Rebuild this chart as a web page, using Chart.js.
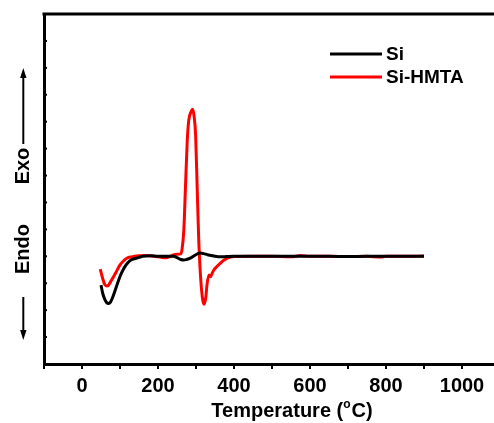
<!DOCTYPE html>
<html>
<head>
<meta charset="utf-8">
<script src="https://cdn.jsdelivr.net/npm/chart.js@4/dist/chart.umd.min.js"></script>
<style>
html,body{margin:0;padding:0;background:#fff;overflow:hidden;width:494px;height:423px;}
canvas{display:block;}
</style>
</head>
<body>
<canvas id="c" width="500" height="423"></canvas>
<script>
// ---- Data ----
const siTemp = [50,55,60,65,70,75,80,90,100,110,120,130,140,150,160,180,200,220,240,250,260,268,275,285,295,305,312,320,330,340,350,365,380,400,450,500,550,600,650,700,750,800,850,900];
const siValue = [2.93,2.6,2.4,2.28,2.25,2.3,2.45,2.85,3.25,3.55,3.75,3.87,3.92,3.96,4.0,4.02,4.0,4.0,4.0,3.95,3.88,3.86,3.88,3.93,4.02,4.1,4.12,4.1,4.06,4.03,4.0,3.98,3.99,4.0,4.0,4.0,4.0,4.0,4.0,3.99,4.0,4.0,4.0,4.0];

const hmtaTemp = [48,55,60,65,70,75,83,90,100,110,118,130,150,170,190,210,220,230,240,250,260,263,268,272,277,281,287,291,295,299,303,307,312,317,321,326,329,334,338,342,347,355,365,375,385,400,450,500,550,575,600,650,700,750,785,800,850,900];
const hmtaValue = [3.52,3.15,2.95,2.9,2.93,3.05,3.24,3.42,3.68,3.84,3.93,3.98,4.02,4.03,4.0,3.96,3.95,3.98,4.05,4.08,4.09,4.23,4.98,6.46,8.3,9.06,9.37,9.46,9.2,8.5,6.6,4.7,3.24,2.45,2.22,2.5,2.95,3.31,3.24,3.35,3.49,3.62,3.76,3.87,3.94,3.99,4.0,4.0,3.98,4.03,4.0,4.0,3.99,4.0,3.97,4.0,4.0,4.01];

const seriesNames = ['Si','Si-HMTA'];
const seriesColors = ['#000000','#ff0000'];
const xTickLabelsEvery = 200;
const yTitleTop = 'Exo';
const yTitleBottom = 'Endo';
const xTitleMain = 'Temperature (';
const xTitleSup = 'o';
const xTitleEnd = 'C)';

const FONT = '"Liberation Sans", Arial, sans-serif';

function toPts(xs, ys){ return xs.map((x,i)=>({x:x,y:ys[i]})); }

const decorPlugin = {
  id:'decor',
  afterDraw(chart){
    const ctx = chart.ctx;
    const a = chart.chartArea;
    const ys = chart.scales.y;
    ctx.save();
    // top border
    ctx.strokeStyle='#000'; ctx.lineWidth=3;
    ctx.beginPath(); ctx.moveTo(a.left-1.5, a.top); ctx.lineTo(chart.width, a.top); ctx.stroke();
    // inward left ticks
    ctx.lineWidth=2;
    ys.ticks.forEach(t=>{
      const py = ys.getPixelForValue(t.value);
      ctx.beginPath(); ctx.moveTo(a.left, py); ctx.lineTo(a.left+3, py); ctx.stroke();
    });
    // legend
    ctx.font = 'bold 19px '+FONT;
    ctx.textBaseline='middle'; ctx.textAlign='left';
    const lx0 = 330, lx1 = 382, ly = [54,77];
    chart.data.datasets.forEach((ds,i)=>{
      ctx.strokeStyle = ds.borderColor; ctx.lineWidth = 3;
      ctx.beginPath(); ctx.moveTo(lx0, ly[i]); ctx.lineTo(lx1, ly[i]); ctx.stroke();
      ctx.fillStyle='#000';
      ctx.fillText(ds.label, 386, ly[i]+1);
    });
    // y title (rotated) with arrows
    ctx.fillStyle='#000';
    ctx.font = 'bold 20px '+FONT;
    ctx.save();
    ctx.translate(28.5, 166); ctx.rotate(-Math.PI/2);
    ctx.textAlign='center'; ctx.textBaseline='alphabetic';
    ctx.fillText(yTitleTop, 0, 0);
    ctx.restore();
    ctx.save();
    ctx.translate(28.5, 249); ctx.rotate(-Math.PI/2);
    ctx.textAlign='center'; ctx.textBaseline='alphabetic';
    ctx.fillText(yTitleBottom, 0, 0);
    ctx.restore();
    // arrows
    ctx.strokeStyle='#000'; ctx.lineWidth=2;
    const ax = 23.3;
    ctx.beginPath(); ctx.moveTo(ax, 144); ctx.lineTo(ax, 74); ctx.stroke();
    ctx.beginPath(); ctx.moveTo(ax, 68); ctx.lineTo(ax-3.2, 78); ctx.lineTo(ax+3.2, 78); ctx.closePath(); ctx.fill();
    ctx.beginPath(); ctx.moveTo(ax, 297); ctx.lineTo(ax, 334); ctx.stroke();
    ctx.beginPath(); ctx.moveTo(ax, 340); ctx.lineTo(ax-3.2, 330); ctx.lineTo(ax+3.2, 330); ctx.closePath(); ctx.fill();
    // x title with superscript
    ctx.font = 'bold 20px '+FONT;
    ctx.textBaseline='alphabetic'; ctx.textAlign='left';
    const supFont = 'bold 12px '+FONT;
    const w1 = ctx.measureText(xTitleMain).width;
    const w3 = ctx.measureText(xTitleEnd).width;
    ctx.font = supFont;
    const w2 = ctx.measureText(xTitleSup).width;
    const total = w1 + w2 + 1 + w3;
    let x = 292 - total/2;
    const base = 417;
    ctx.font = 'bold 20px '+FONT;
    ctx.fillText(xTitleMain, x, base); x += w1;
    ctx.font = supFont;
    ctx.fillText(xTitleSup, x, base-9); x += w2 + 1;
    ctx.font = 'bold 20px '+FONT;
    ctx.fillText(xTitleEnd, x, base);
    ctx.restore();
  }
};

new Chart(document.getElementById('c'), {
  type:'line',
  data:{
    datasets:[
      {label:seriesNames[0], data:toPts(siTemp, siValue), borderColor:seriesColors[0], borderWidth:3, pointRadius:0, cubicInterpolationMode:'monotone', fill:false},
      {label:seriesNames[1], data:toPts(hmtaTemp, hmtaValue), borderColor:seriesColors[1], borderWidth:3, pointRadius:0, cubicInterpolationMode:'monotone', fill:false}
    ]
  },
  options:{
    responsive:false,
    animation:false,
    events:[],
    layout:{padding:{left:0,right:0,top:14,bottom:0}},
    plugins:{legend:{display:false}, tooltip:{enabled:false}, title:{display:false}},
    scales:{
      x:{
        type:'linear', min:-100, max:1100,
        afterFit(s){ s.height = 59; s.paddingRight = 0; },
        border:{display:true, color:'#000', width:3},
        grid:{display:true, drawOnChartArea:false, drawTicks:true, tickLength:5, color:'#000', lineWidth:2},
        ticks:{stepSize:100, autoSkip:false, maxRotation:0, padding:5, color:'#000',
          font:{family:FONT, size:20, weight:'bold'},
          callback:(v)=> (v % xTickLabelsEvery === 0 && v >= 0 && v <= 1000) ? String(v) : ''}
      },
      y:{
        type:'linear', min:0, max:13,
        afterFit(s){ s.width = 44; },
        border:{display:true, color:'#000', width:3},
        grid:{display:false, drawTicks:false},
        ticks:{display:false, stepSize:1}
      }
    }
  },
  plugins:[decorPlugin]
});
</script>
</body>
</html>
